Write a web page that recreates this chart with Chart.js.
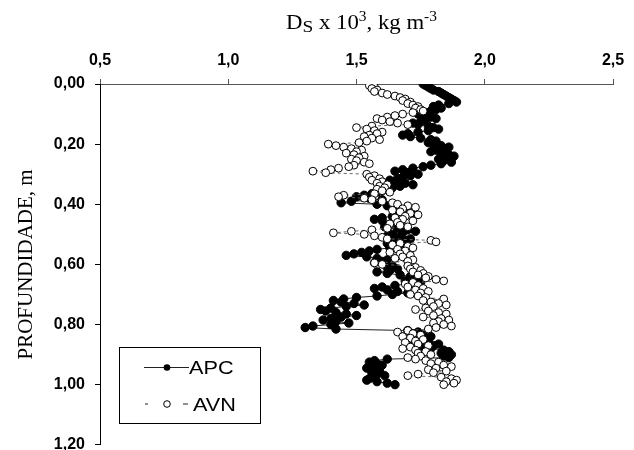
<!DOCTYPE html>
<html><head><meta charset="utf-8">
<script src="https://cdn.jsdelivr.net/npm/chart.js@4.4.1/dist/chart.umd.min.js"></script>
<style>html,body{margin:0;padding:0;background:#fff}#wrap{width:634px;height:450px;position:relative}</style>
</head><body><div id="wrap"><canvas id="c" width="634" height="450"></canvas></div>
<script>
// Depth (m)
const depths = [
0,0.005,0.01,0.015,0.02,0.025,0.03,0.035,0.04,0.045,
0.05,0.055,0.06,0.065,0.07,0.075,0.08,0.085,0.09,0.095,
0.1,0.105,0.11,0.115,0.12,0.125,0.13,0.135,0.14,0.145,
0.15,0.155,0.16,0.165,0.17,0.175,0.18,0.185,0.19,0.195,
0.2,0.205,0.21,0.215,0.22,0.225,0.23,0.235,0.24,0.245,
0.25,0.255,0.26,0.265,0.27,0.275,0.28,0.285,0.29,0.295,
0.3,0.305,0.31,0.315,0.32,0.325,0.33,0.335,0.34,0.345,
0.35,0.355,0.36,0.365,0.37,0.375,0.38,0.385,0.39,0.395,
0.4,0.405,0.41,0.415,0.42,0.425,0.43,0.435,0.44,0.445,
0.45,0.455,0.46,0.465,0.47,0.475,0.48,0.485,0.49,0.495,
0.5,0.505,0.51,0.515,0.52,0.525,0.53,0.535,0.54,0.545,
0.55,0.555,0.56,0.565,0.57,0.575,0.58,0.585,0.59,0.595,
0.6,0.605,0.61,0.615,0.62,0.625,0.63,0.635,0.64,0.645,
0.65,0.655,0.66,0.665,0.67,0.675,0.68,0.685,0.69,0.695,
0.7,0.705,0.71,0.715,0.72,0.725,0.73,0.735,0.74,0.745,
0.75,0.755,0.76,0.765,0.77,0.775,0.78,0.785,0.79,0.795,
0.8,0.805,0.81,0.815,0.82,0.825,0.83,0.835,0.84,0.845,
0.85,0.855,0.86,0.865,0.87,0.875,0.88,0.885,0.89,0.895,
0.9,0.905,0.91,0.915,0.92,0.925,0.93,0.935,0.94,0.945,
0.95,0.955,0.96,0.965,0.97,0.975,0.98,0.985,0.99,0.995,
1.0];

// Ds x 10^3 (kg m-3) - APC
const apc = [
1.76,1.77,1.78,1.79,1.80,1.82,1.83,1.84,1.85,1.86,
1.87,1.88,1.89,1.86,1.82,1.80,1.83,1.81,1.79,1.78,
1.74,1.76,1.79,1.81,1.77,1.75,1.72,1.74,1.78,1.80,
1.82,1.78,1.74,1.70,1.68,1.71,1.75,1.79,1.81,1.78,
1.80,1.83,1.86,1.84,1.81,1.79,1.83,1.86,1.88,1.85,
1.82,1.84,1.87,1.83,1.79,1.76,1.72,1.68,1.65,1.70,
1.74,1.71,1.68,1.66,1.63,1.65,1.69,1.72,1.67,1.64,
1.62,1.60,1.58,1.56,1.53,1.50,1.55,1.60,1.48,1.44,
1.58,1.62,1.66,1.70,1.68,1.65,1.72,1.69,1.64,1.60,
1.57,1.60,1.64,1.67,1.63,1.61,1.66,1.70,1.73,1.68,
1.64,1.62,1.67,1.71,1.69,1.65,1.62,1.66,1.68,1.63,
1.58,1.55,1.52,1.49,1.46,1.54,1.58,1.62,1.60,1.57,
1.61,1.64,1.62,1.66,1.63,1.58,1.62,1.67,1.71,1.74,
1.72,1.69,1.75,1.70,1.65,1.60,1.57,1.62,1.66,1.70,
1.64,1.58,1.50,1.45,1.41,1.44,1.49,1.53,1.46,1.40,
1.36,1.38,1.42,1.46,1.50,1.44,1.40,1.37,1.42,1.47,
1.40,1.33,1.30,1.42,1.70,1.74,1.72,1.76,1.79,1.75,
1.75,1.72,1.78,1.82,1.80,1.76,1.79,1.84,1.86,1.83,
1.87,1.84,1.86,1.62,1.57,1.55,1.58,1.60,1.56,1.54,
1.57,1.59,1.56,1.58,1.61,1.57,1.55,1.54,1.58,1.62,
1.65];

// Ds x 10^3 (kg m-3) - AVN
const avn = [
1.56,1.55,1.57,1.56,1.58,1.57,1.60,1.62,1.65,1.67,
1.69,1.68,1.71,1.70,1.72,1.74,1.73,1.75,1.76,1.72,
1.68,1.65,1.62,1.58,1.60,1.63,1.66,1.70,1.56,1.50,
1.54,1.57,1.60,1.58,1.55,1.53,1.56,1.59,1.54,1.51,
1.39,1.42,1.45,1.48,1.52,1.50,1.46,1.49,1.53,1.51,
1.48,1.50,1.53,1.55,1.49,1.47,1.43,1.40,1.33,1.38,
1.54,1.57,1.55,1.59,1.56,1.60,1.58,1.62,1.59,1.61,
1.58,1.60,1.63,1.57,1.45,1.43,1.53,1.56,1.60,1.64,
1.66,1.70,1.73,1.68,1.64,1.67,1.71,1.74,1.69,1.65,
1.68,1.72,1.66,1.63,1.67,1.70,1.62,1.56,1.48,1.41,
1.53,1.57,1.60,1.62,1.79,1.81,1.67,1.64,1.70,1.72,
1.66,1.69,1.63,1.67,1.71,1.68,1.65,1.72,1.70,1.57,
1.60,1.70,1.73,1.71,1.75,1.72,1.76,1.74,1.78,1.77,
1.81,1.84,1.72,1.69,1.74,1.70,1.76,1.73,1.78,1.75,
1.71,1.74,1.77,1.84,1.76,1.79,1.82,1.85,1.80,1.77,
1.73,1.78,1.82,1.85,1.80,1.76,1.83,1.86,1.82,1.80,
1.84,1.87,1.81,1.78,1.70,1.66,1.72,1.75,1.68,1.71,
1.76,1.73,1.69,1.74,1.78,1.71,1.68,1.73,1.77,1.74,
1.79,1.75,1.70,1.73,1.77,1.82,1.79,1.84,1.87,1.81,
1.78,1.85,1.80,1.74,1.70,1.83,1.87,1.89,1.85,1.88,
1.84];

const seriesNames = ['APC', 'AVN'];
const xTickLabels = ['0,5', '1,0', '1,5', '2,0', '2,5'];
const yTickLabels = ['0,00', '0,20', '0,40', '0,60', '0,80', '1,00', '1,20'];
const yTitle = 'PROFUNDIDADE, m';
// x title pieces: [text, baseline shift, relative size]
const xTitleParts = [['D', 0, 1], ['S', 3, 0.85], [' x 10', 0, 1], ['3', -8.5, 0.68], [', kg m', 0, 1], ['-3', -8.5, 0.68]];

const SANS = '"Liberation Sans", Arial, sans-serif';
const SERIF = '"Liberation Serif", "Times New Roman", serif';

const xTitlePlugin = {
  id: 'xTitle',
  afterDraw(chart) {
    const ctx = chart.ctx;
    const base = 20;
    ctx.save();
    ctx.fillStyle = '#000';
    ctx.textBaseline = 'alphabetic';
    let w = 0;
    const widths = xTitleParts.map(p => { ctx.font = (base * p[2]) + 'px ' + SERIF; const m = ctx.measureText(p[0]).width; w += m; return m; });
    const targetW = 151;
    const sx = targetW / w;
    const cx = 361.5, by = 29.3;
    ctx.translate(cx - targetW / 2, by);
    ctx.scale(sx, 1);
    let x = 0;
    xTitleParts.forEach((p, i) => {
      ctx.font = (base * p[2]) + 'px ' + SERIF;
      ctx.fillText(p[0], x, p[1]);
      x += widths[i];
    });
    ctx.restore();
  }
};

const legendPlugin = {
  id: 'boxLegend',
  afterDraw(chart) {
    const ctx = chart.ctx;
    ctx.save();
    ctx.fillStyle = '#fff';
    ctx.fillRect(119.5, 347.5, 141, 76);
    ctx.strokeStyle = '#000';
    ctx.lineWidth = 1;
    ctx.strokeRect(119.5, 347.5, 141, 76);
    const y1 = 367.5, y2 = 404;
    ctx.strokeStyle = '#222';
    ctx.beginPath(); ctx.moveTo(144, y1); ctx.lineTo(189, y1); ctx.stroke();
    ctx.fillStyle = '#000';
    ctx.beginPath(); ctx.arc(167, y1, 3.3, 0, Math.PI * 2); ctx.fill();
    ctx.strokeStyle = '#222';
    ctx.beginPath(); ctx.moveTo(145, y2); ctx.lineTo(148, y2); ctx.moveTo(183, y2); ctx.lineTo(188, y2); ctx.stroke();
    ctx.fillStyle = '#fff';
    ctx.beginPath(); ctx.arc(167, y2, 3.3, 0, Math.PI * 2); ctx.fill();
    ctx.strokeStyle = '#000';
    ctx.stroke();
    ctx.fillStyle = '#000';
    ctx.font = '19px ' + SANS;
    ctx.textBaseline = 'alphabetic';
    [[seriesNames[0], 189, 374.3], [seriesNames[1], 193, 410.7]].forEach(t => {
      ctx.save();
      ctx.translate(t[1], t[2]);
      ctx.scale(1.14, 1);
      ctx.fillText(t[0], 0, 0);
      ctx.restore();
    });
    ctx.restore();
  }
};

const toPts = arr => depths.map((d, i) => ({ x: arr[i], y: d }));

new Chart(document.getElementById('c'), {
  type: 'scatter',
  data: {
    datasets: [
      { label: seriesNames[0], data: toPts(apc), showLine: true, borderColor: '#222', borderWidth: 1,
        pointRadius: 4.2, pointBackgroundColor: '#000', pointBorderColor: '#000', pointBorderWidth: 1, order: 2 },
      { label: seriesNames[1], data: toPts(avn), showLine: true, borderColor: '#666', borderWidth: 1, borderDash: [3, 3],
        pointRadius: 3.9, pointBackgroundColor: '#fff', pointBorderColor: '#000', pointBorderWidth: 1, order: 1 }
    ]
  },
  options: {
    responsive: false, animation: false, devicePixelRatio: 1,
    layout: { padding: { left: 0, top: 0, right: 21, bottom: 5 } },
    plugins: { legend: { display: false }, tooltip: { enabled: false } },
    scales: {
      x: {
        type: 'linear', position: 'top', min: 0.5, max: 2.5,
        ticks: { stepSize: 0.5, color: '#000', autoSkip: false, maxRotation: 0, padding: 10,
          font: { family: SANS, size: 16, weight: 'bold', lineHeight: 1 },
          callback: (v) => xTickLabels[Math.round((v - 0.5) / 0.5)] },
        grid: { drawOnChartArea: false, drawTicks: true, tickLength: 5, color: '#555' },
        border: { display: true, color: '#555', width: 1 },
        afterFit: s => { s.height = 84; s.paddingLeft = 0; s.paddingRight = 0; }
      },
      y: {
        type: 'linear', reverse: true, min: 0, max: 1.2,
        ticks: { stepSize: 0.2, color: '#000', autoSkip: false, padding: 10,
          font: { family: SANS, size: 16, weight: 'bold', lineHeight: 1 },
          callback: (v) => yTickLabels[Math.round(v / 0.2)] },
        grid: { drawOnChartArea: false, drawTicks: true, tickLength: 5, color: '#000' },
        border: { display: true, color: '#000', width: 1 },
        title: { display: true, text: yTitle, color: '#000', font: { family: SERIF, size: 21, lineHeight: 1.2 }, padding: { top: 14, bottom: 0 } },
        afterFit: s => { s.width = 100; s.paddingTop = 0; s.paddingBottom = 0; }
      }
    }
  },
  plugins: [xTitlePlugin, legendPlugin]
});
</script>
</body></html>
